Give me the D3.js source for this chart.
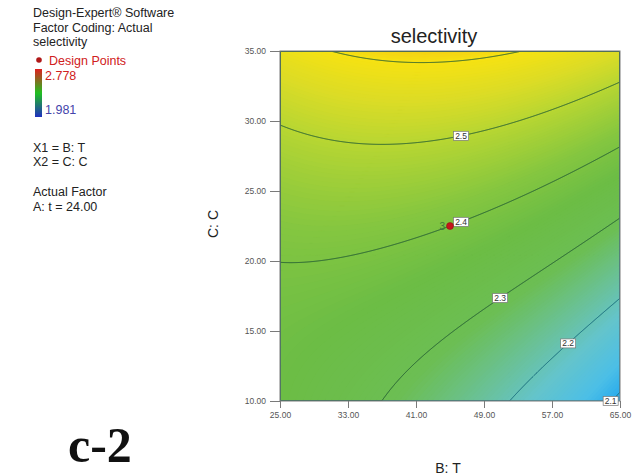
<!DOCTYPE html>
<html>
<head>
<meta charset="utf-8">
<script src="https://cdn.jsdelivr.net/npm/d3@7"></script>
<style>
body { margin: 0; background: #fff; }
text { font-family: "Liberation Sans", Arial, sans-serif; }
</style>
</head>
<body>
<div id="chart"></div>
<script>
// factor ranges and ticks
var tRange = [25, 65], cRange = [10, 35];
var tTicks = [25, 33, 41, 49, 57, 65];
var cTicks = [10, 15, 20, 25, 30, 35];

// response read along coded C (-1..1) at T = 25, 45, 65 : [const, lin, square]
var tNodes = [25, 45, 65];
var profileLow = [2.4206, 0.1094, 0.0488];
var profileMid = [2.4000, 0.1824, 0.0324];
var profileHigh = [2.2894, 0.2298, 0.0318];

var contourLevels = [2.1, 2.2, 2.3, 2.4, 2.5, 2.6];
var labelLevels = [2.1, 2.2, 2.3, 2.4, 2.5];
var labelT = [63.9, 58.9, 50.9, 46.3, 46.3];

var designT = [45], designC = [22.5], designCount = [3];

var colorDomain = [1.981, 2.05, 2.09, 2.13, 2.18, 2.23, 2.29, 2.36, 2.42, 2.50, 2.55, 2.60, 2.778];
var colorRange = ["#1c3cc0", "#2470d0", "#22a6ee", "#4cbfe6", "#64c4cc", "#6ac196", "#6cbe54", "#6cbd45",
                  "#84c640", "#b8d632", "#dcdc26", "#f6e212", "#e02020"];
var legendMax = "2.778", legendMin = "1.981";

var width = 641, height = 476;
var svg = d3.select("#chart").append("svg")
    .attr("width", width)
    .attr("height", height);

var x = d3.scaleLinear().domain(tRange).range([280, 620]);
var y = d3.scaleLinear().domain(cRange).range([401, 51]);
var color = d3.scaleLinear().domain(colorDomain).range(colorRange).clamp(true);

function selectivity(T, C) {
  var u = (T - tNodes[1]) / (tNodes[2] - tNodes[1]);
  var v = (C - (cRange[0] + cRange[1]) / 2) / ((cRange[1] - cRange[0]) / 2);
  function prof(p) { return p[0] + p[1] * v + p[2] * v * v; }
  var lo = prof(profileLow), mid = prof(profileMid), hi = prof(profileHigh);
  return mid + u * (hi - lo) / 2 + u * u * ((hi + lo) / 2 - mid);
}

// grid
var nx = 340, ny = 350;
var values = new Array(nx * ny);
for (var j = 0; j < ny; j++) {
  for (var i = 0; i < nx; i++) {
    var T = tRange[0] + (i + 0.5) * (tRange[1] - tRange[0]) / nx;
    var C = cRange[1] - (j + 0.5) * (cRange[1] - cRange[0]) / ny;
    values[j * nx + i] = selectivity(T, C);
  }
}
var proj = d3.geoTransform({
  point: function(a, b) {
    this.stream.point(
      x(tRange[0] + a * (tRange[1] - tRange[0]) / nx),
      y(cRange[1] - b * (cRange[1] - cRange[0]) / ny));
  }
});
var path = d3.geoPath(proj);

svg.append("clipPath").attr("id", "plotclip")
  .append("rect")
    .attr("x", x(tRange[0])).attr("y", y(cRange[1]))
    .attr("width", x(tRange[1]) - x(tRange[0]))
    .attr("height", y(cRange[0]) - y(cRange[1]));

var plot = svg.append("g").attr("clip-path", "url(#plotclip)");

var minV = d3.min(values);
plot.append("rect")
    .attr("x", x(tRange[0])).attr("y", y(cRange[1]))
    .attr("width", x(tRange[1]) - x(tRange[0]))
    .attr("height", y(cRange[0]) - y(cRange[1]))
    .attr("fill", color(minV));

var step = 0.004;
var bands = d3.contours().size([nx, ny])
    .thresholds(d3.range(1.96, 2.7, step))(values);
plot.selectAll("path.band")
  .data(bands)
  .enter().append("path")
    .attr("class", "band")
    .attr("d", path)
    .attr("fill", function(d) { return color(d.value + step / 2); })
    .attr("stroke", function(d) { return color(d.value + step / 2); })
    .attr("stroke-width", 0.5);

var lines = d3.contours().size([nx, ny]).thresholds(contourLevels)(values);
plot.selectAll("path.line")
  .data(lines)
  .enter().append("path")
    .attr("class", "line")
    .attr("d", path)
    .attr("fill", "none")
    .attr("stroke", function(d) { return d.value < 2.25 ? "#14687a" : "#245e34"; })
    .attr("stroke-width", 1);

// frame
svg.append("rect")
    .attr("x", x(tRange[0])).attr("y", y(cRange[1]))
    .attr("width", x(tRange[1]) - x(tRange[0]))
    .attr("height", y(cRange[0]) - y(cRange[1]))
    .attr("fill", "none")
    .attr("stroke", "#7a7a7a")
    .attr("stroke-width", 1);

// axes
var xAxis = svg.append("g")
    .attr("transform", "translate(0," + y(cRange[0]) + ")")
    .call(d3.axisBottom(x).tickValues(tTicks).tickFormat(d3.format(".2f"))
      .tickSize(7).tickPadding(4));
var yAxis = svg.append("g")
    .attr("transform", "translate(" + x(tRange[0]) + ",0)")
    .call(d3.axisLeft(y).tickValues(cTicks).tickFormat(d3.format(".2f"))
      .tickSize(10).tickPadding(4));
[xAxis, yAxis].forEach(function(a) {
  a.select(".domain").remove();
  a.selectAll("line").attr("stroke", "#7a7a7a");
  a.selectAll("text")
    .attr("fill", "#555")
    .style("font-size", "8.5px")
    .style("font-family", "'Liberation Sans', Arial, sans-serif");
});

// contour labels
function solveC(T, level) {
  var lo = cRange[0], hi = cRange[1];
  for (var k = 0; k < 40; k++) {
    var mid = (lo + hi) / 2;
    if (selectivity(T, mid) < level) lo = mid; else hi = mid;
  }
  return (lo + hi) / 2;
}
var lab = svg.selectAll("g.clabel")
  .data(labelLevels)
  .enter().append("g")
    .attr("class", "clabel")
    .attr("transform", function(d, i) {
      return "translate(" + x(labelT[i]) + "," + y(solveC(labelT[i], d)) + ")";
    });
lab.append("rect")
    .attr("x", -7.5).attr("y", -4.5)
    .attr("width", 15).attr("height", 9)
    .attr("fill", "#fff")
    .attr("stroke", "#777")
    .attr("stroke-width", 0.7);
lab.append("text")
    .attr("text-anchor", "middle")
    .attr("dy", "0.35em")
    .attr("fill", "#333")
    .style("font-size", "8.5px")
    .text(function(d) { return d3.format(".1f")(d); });

// design points
designT.forEach(function(t, i) {
  svg.append("circle")
      .attr("cx", x(t)).attr("cy", y(designC[i]))
      .attr("r", 3.5)
      .attr("fill", "#c4161c")
      .attr("stroke", "#8a1010")
      .attr("stroke-width", 0.5);
  svg.append("text")
      .attr("x", x(t) - 5).attr("y", y(designC[i]))
      .attr("dy", "0.35em")
      .attr("text-anchor", "end")
      .attr("fill", "#3a7a3a")
      .style("font-size", "10px")
      .text(designCount[i]);
});

// titles
svg.append("text")
    .attr("x", 434).attr("y", 43)
    .attr("text-anchor", "middle")
    .attr("fill", "#222")
    .style("font-size", "20px")
    .text("selectivity");
svg.append("text")
    .attr("x", 448).attr("y", 473)
    .attr("text-anchor", "middle")
    .attr("fill", "#222")
    .style("font-size", "14px")
    .text("B: T");
svg.append("text")
    .attr("transform", "translate(218,224) rotate(-90)")
    .attr("text-anchor", "middle")
    .attr("fill", "#222")
    .style("font-size", "14px")
    .text("C: C");

// legend block
var legend = svg.append("g").style("font-size", "12.5px").attr("fill", "#222");
var legendLines = [["Design-Expert® Software", 17], ["Factor Coding: Actual", 32], ["selectivity", 46],
                   ["X1 = B: T", 152], ["X2 = C: C", 166], ["Actual Factor", 196], ["A: t = 24.00", 211]];
legendLines.forEach(function(l) {
  legend.append("text").attr("x", 33).attr("y", l[1]).text(l[0]);
});
legend.append("circle").attr("cx", 39).attr("cy", 60).attr("r", 2.8).attr("fill", "#b01818");
legend.append("text").attr("x", 49).attr("y", 65).attr("fill", "#d02020").text("Design Points");

var grad = svg.append("defs").append("linearGradient")
    .attr("id", "legendgrad")
    .attr("x1", 0).attr("y1", 0).attr("x2", 0).attr("y2", 1);
grad.append("stop").attr("offset", "0%").attr("stop-color", "#e02020");
grad.append("stop").attr("offset", "50%").attr("stop-color", "#20c020");
grad.append("stop").attr("offset", "100%").attr("stop-color", "#2030c0");
legend.append("rect")
    .attr("x", 35).attr("y", 69).attr("width", 7).attr("height", 48)
    .attr("fill", "url(#legendgrad)");
legend.append("text").attr("x", 45).attr("y", 80).attr("fill", "#d02020").text(legendMax);
legend.append("text").attr("x", 45).attr("y", 114).attr("fill", "#4444aa").text(legendMin);

// panel tag
svg.append("text")
    .attr("x", 68).attr("y", 462)
    .attr("fill", "#111")
    .style("font-family", "'Liberation Serif', 'Times New Roman', serif")
    .style("font-weight", "bold")
    .style("font-size", "50px")
    .text("c-2");
</script>
</body>
</html>
